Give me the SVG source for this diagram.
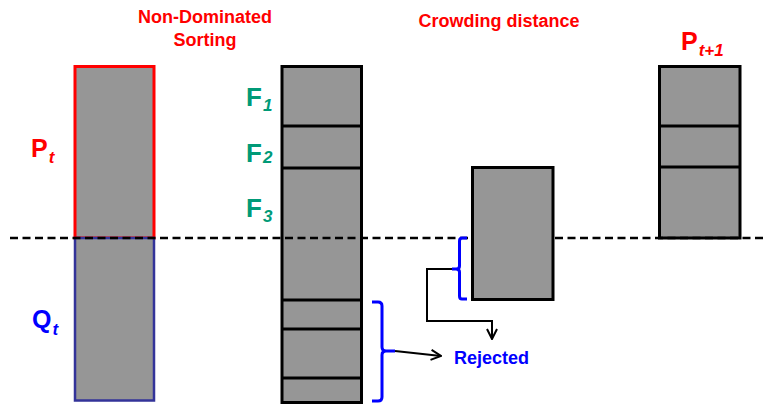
<svg xmlns="http://www.w3.org/2000/svg" width="764" height="405" viewBox="0 0 764 405">
  <style>
    text { font-family: "Liberation Sans", Arial, sans-serif; font-weight: bold; }
    .bar { fill: #969696; stroke: #000; stroke-width: 3; }
    .div { stroke: #000; stroke-width: 3; }
    .title { fill: #ff0000; font-size: 18px; text-anchor: middle; }
    .front { fill: #009a77; font-size: 26px; }
    .sub { font-style: italic; font-size: 17px; }
    .cut { stroke: #000; stroke-width: 2.5; stroke-dasharray: 8,4.5; }
    .brace { fill: none; stroke: #0000ff; stroke-width: 3; stroke-linejoin: round; }
    .link { fill: none; stroke: #000; stroke-width: 2; }
  </style>
  <defs>
    <marker id="open" viewBox="0 0 12 12" refX="11" refY="6" markerWidth="12" markerHeight="12" markerUnits="userSpaceOnUse" orient="auto">
      <path d="M1,1 L11,6 L1,11" fill="none" stroke="#000" stroke-width="2"/>
    </marker>
  </defs>

  <!-- titles -->
  <text class="title" x="205" y="23">Non-Dominated</text>
  <text class="title" x="205" y="46">Sorting</text>
  <text class="title" x="499" y="27">Crowding distance</text>

  <!-- combined population Rt = Pt + Qt -->
  <g id="population">
    <rect x="75" y="66.5" width="79" height="171.5" fill="#969696" stroke="#ff0000" stroke-width="3"/>
    <rect x="75" y="238" width="79" height="162.5" fill="#969696" stroke="#333399" stroke-width="2.5"/>
    <text x="31" y="157" fill="#ff0000" font-size="25">P<tspan class="sub" dx="1" dy="6">t</tspan></text>
    <text x="32" y="328" fill="#0000ff" font-size="25">Q<tspan class="sub" dx="1" dy="7">t</tspan></text>
  </g>

  <!-- fronts after non-dominated sorting -->
  <g id="fronts">
    <rect class="bar" x="282" y="66.5" width="79.5" height="336"/>
    <line class="div" x1="282" y1="126" x2="361.5" y2="126"/>
    <line class="div" x1="282" y1="168" x2="361.5" y2="168"/>
    <line class="div" x1="282" y1="300" x2="361.5" y2="300"/>
    <line class="div" x1="282" y1="329" x2="361.5" y2="329"/>
    <line class="div" x1="282" y1="378" x2="361.5" y2="378"/>
    <text class="front" x="246" y="106">F<tspan class="sub" dx="1" dy="5">1</tspan></text>
    <text class="front" x="246" y="162">F<tspan class="sub" dx="1" dy="1">2</tspan></text>
    <text class="front" x="246" y="217">F<tspan class="sub" dx="1" dy="5">3</tspan></text>
  </g>

  <!-- front F3 sorted by crowding distance -->
  <g id="crowding">
    <rect class="bar" x="472.5" y="167.5" width="80.5" height="132"/>
  </g>

  <!-- next population -->
  <g id="next-population">
    <rect class="bar" x="659.5" y="66.5" width="80.5" height="171.5"/>
    <line class="div" x1="659.5" y1="126" x2="740" y2="126"/>
    <line class="div" x1="659.5" y1="167" x2="740" y2="167"/>
    <text x="681" y="50" fill="#ff0000" font-size="25">P<tspan class="sub" dx="1" dy="6">t+1</tspan></text>
  </g>

  <g id="rejected">
    <text x="454" y="364" fill="#0000ff" font-size="18">Rejected</text>
  </g>

  <!-- connectors -->
  <g id="connectors">
    <!-- population size cut-off, interrupted by the crowding block -->
    <line class="cut" x1="10" y1="238" x2="471" y2="238"/>
    <line class="cut" x1="555" y1="238" x2="764" y2="238"/>
    <path class="brace" d="M467,238 H462 Q459.5,238 459.5,241 V266 Q459.5,269 456,269 H452 M456,269 Q459.5,269 459.5,272 V296 Q459.5,299 462,299 H467"/>
    <path class="link" d="M452,269 H427 V321 H492 V339" marker-end="url(#open)"/>
    <path class="brace" d="M372,302 H378 Q382,302 382,306 V347 Q382,351 386,351 H395 M386,351 Q382,351 382,355 V397 Q382,401 378,401 H372"/>
    <path class="link" d="M395,351 L441,356" marker-end="url(#open)"/>
  </g>
</svg>
